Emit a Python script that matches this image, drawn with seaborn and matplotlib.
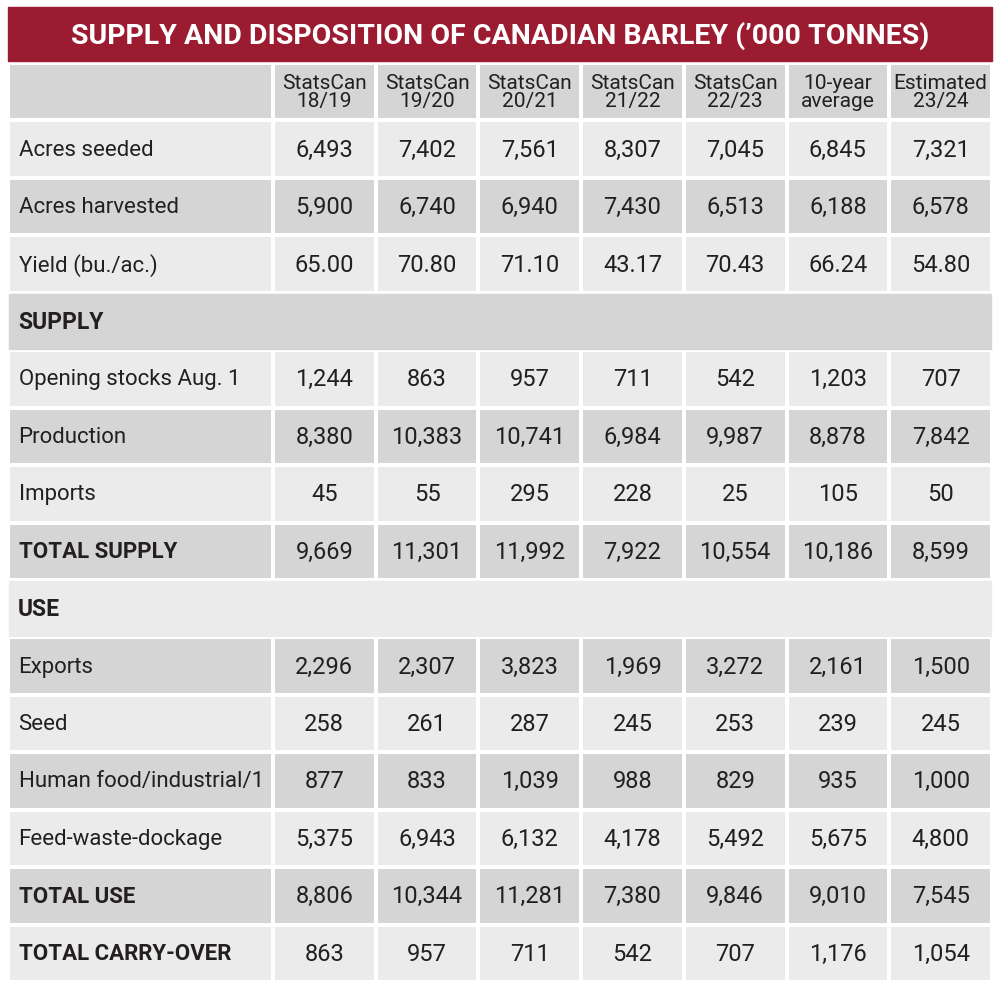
import numpy as np
import pandas as pd
import seaborn as sns
import matplotlib.pyplot as plt
from matplotlib.colors import ListedColormap
from matplotlib.patches import Rectangle

title = "SUPPLY AND DISPOSITION OF CANADIAN BARLEY (’000 TONNES)"
columns = ["StatsCan\n18/19", "StatsCan\n19/20", "StatsCan\n20/21", "StatsCan\n21/22",
           "StatsCan\n22/23", "10-year\naverage", "Estimated\n23/24"]
row_labels = ["Acres seeded", "Acres harvested", "Yield (bu./ac.)", "SUPPLY",
              "Opening stocks Aug. 1", "Production", "Imports", "TOTAL SUPPLY", "USE",
              "Exports", "Seed", "Human food/industrial/1", "Feed-waste-dockage",
              "TOTAL USE", "TOTAL CARRY-OVER"]
bold_rows = ["SUPPLY", "TOTAL SUPPLY", "USE", "TOTAL USE", "TOTAL CARRY-OVER"]
section_rows = ["SUPPLY", "USE"]
acres_seeded = ["6,493", "7,402", "7,561", "8,307", "7,045", "6,845", "7,321"]
acres_harvested = ["5,900", "6,740", "6,940", "7,430", "6,513", "6,188", "6,578"]
yield_ = ["65.00", "70.80", "71.10", "43.17", "70.43", "66.24", "54.80"]
opening = ["1,244", "863", "957", "711", "542", "1,203", "707"]
production = ["8,380", "10,383", "10,741", "6,984", "9,987", "8,878", "7,842"]
imports = ["45", "55", "295", "228", "25", "105", "50"]
total_supply = ["9,669", "11,301", "11,992", "7,922", "10,554", "10,186", "8,599"]
exports = ["2,296", "2,307", "3,823", "1,969", "3,272", "2,161", "1,500"]
seed = ["258", "261", "287", "245", "253", "239", "245"]
human = ["877", "833", "1,039", "988", "829", "935", "1,000"]
feed = ["5,375", "6,943", "6,132", "4,178", "5,492", "5,675", "4,800"]
total_use = ["8,806", "10,344", "11,281", "7,380", "9,846", "9,010", "7,545"]
carry = ["863", "957", "711", "542", "707", "1,176", "1,054"]

blank = [""] * 7
values = [acres_seeded, acres_harvested, yield_, blank, opening, production, imports,
          total_supply, blank, exports, seed, human, feed, total_use, carry]

LIGHT, DARK = "#ebebeb", "#d5d5d5"
TXT = "#231f20"
nrows = len(row_labels) + 1
shade = np.array([(i + 1) % 2 for i in range(nrows)])
cmap = ListedColormap([LIGHT, DARK])

fig = plt.figure(figsize=(10, 9.87), dpi=100)
W, H = 1000, 987
T, B = 1 - 64 / H, 1 - 983 / H
xl0, xl1, xd1 = 8 / W, 273 / W, 992 / W

fig.patches.append(Rectangle((8 / W, 1 - 62 / H), 984 / W, 54 / H, transform=fig.transFigure,
                             color="#9b1c31", zorder=0))
fig.text(0.5, 1 - 36 / H, title, ha="center", va="center", color="white",
         fontsize=20.5, fontweight="bold", family="Roboto")

axl = fig.add_axes([xl0, B, xl1 - xl0, T - B])
axd = fig.add_axes([xl1, B, xd1 - xl1, T - B])
sns.heatmap(pd.DataFrame(shade[:, None]), ax=axl, cmap=cmap, vmin=0, vmax=1, cbar=False,
            linewidths=1.6, linecolor="white", xticklabels=False, yticklabels=False)
sns.heatmap(pd.DataFrame(np.repeat(shade[:, None], 7, axis=1)), ax=axd, cmap=cmap, vmin=0, vmax=1,
            cbar=False, linewidths=1.6, linecolor="white", xticklabels=False, yticklabels=False)

for j, c in enumerate(columns):
    axd.text(j + 0.5, 0.5, c, ha="center", va="center", fontsize=15, color=TXT,
             family="Roboto", linespacing=0.95)

h = (T - B) / nrows
for i, lab in enumerate(row_labels):
    r = i + 1
    bold = lab in bold_rows
    if lab in section_rows:
        col = DARK if shade[r] else LIGHT
        fig.patches.append(Rectangle((xl0 + 1 / W, T - (r + 1) * h + 1 / H), (xd1 - xl0) - 2 / W,
                                     h - 2 / H, transform=fig.transFigure, color=col, zorder=5))
        fig.text(18 / W, T - (r + 0.5) * h, lab, ha="left", va="center", fontsize=16.5,
                 fontweight="bold", color=TXT, family="Roboto", zorder=6)
        continue
    axl.text(0.04, r + 0.5, lab, ha="left", va="center", fontsize=16, color=TXT,
             family="Roboto", fontweight="bold" if bold else "normal")
    for j, v in enumerate(values[i]):
        axd.text(j + 0.5, r + 0.5, v, ha="center", va="center", fontsize=17, color=TXT,
                 family="Roboto", fontweight="normal")

for ax in (axl, axd):
    ax.set_xlabel(""); ax.set_ylabel("")
    for s in ax.spines.values():
        s.set_visible(False)

fig.savefig("out.png", dpi=100, facecolor="white")
